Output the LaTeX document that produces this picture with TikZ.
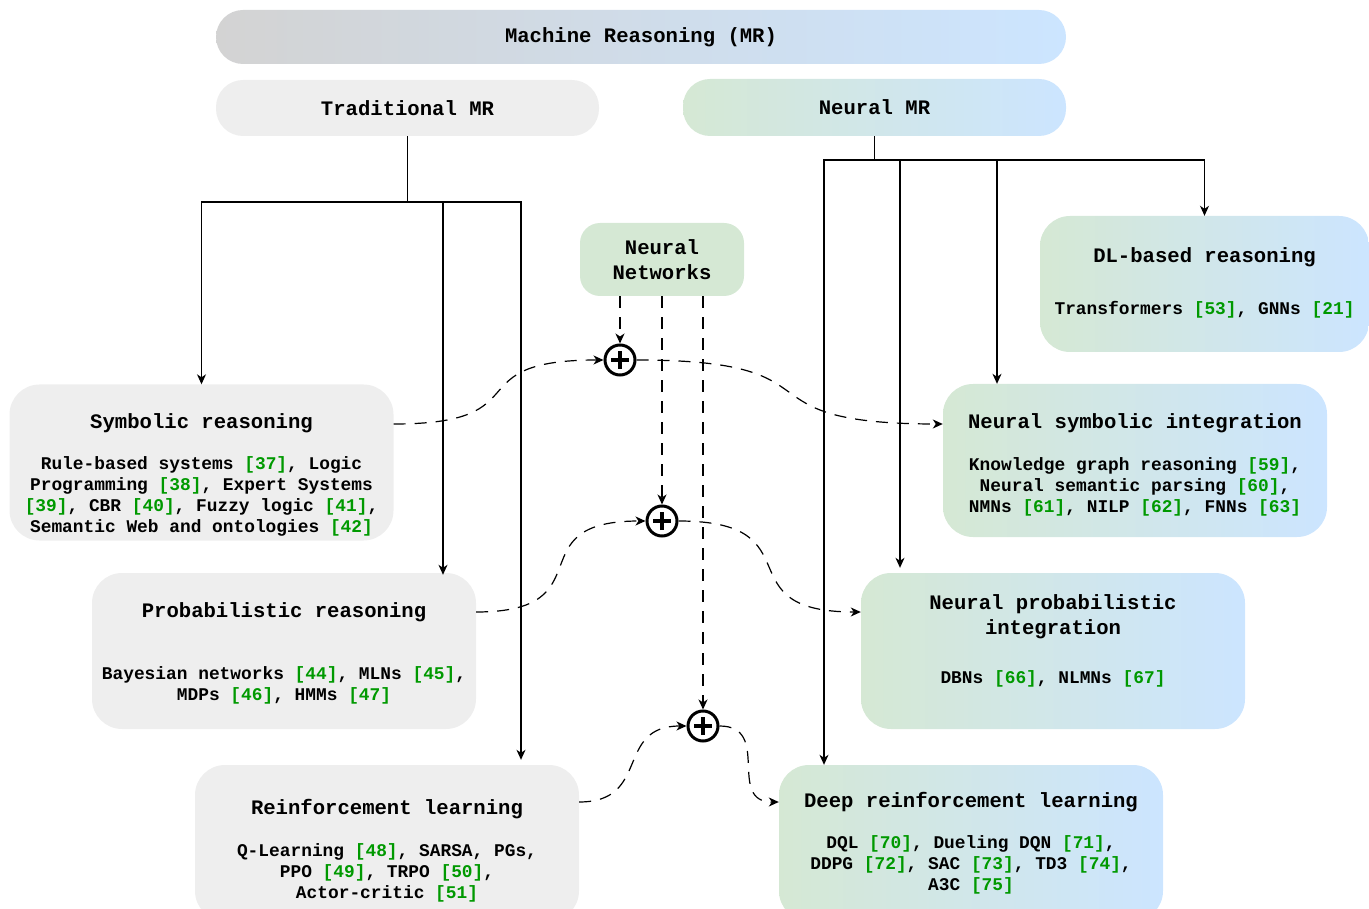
\documentclass[tikz,border=0pt]{standalone}
\usepackage{fontspec}
\setmonofont{Liberation Mono}
\usetikzlibrary{arrows.meta}

\definecolor{boxgray}{RGB}{238,238,238}
\definecolor{mrgray}{RGB}{211,211,211}
\definecolor{nngreen}{RGB}{213,232,212}
\definecolor{nnblue}{RGB}{204,229,255}
\definecolor{litgreen}{RGB}{0,153,0}

\newcommand{\titlef}{\fontsize{20.6}{25}\selectfont\ttfamily\bfseries}
\newcommand{\bodyf}{\fontsize{17.85}{21}\selectfont\ttfamily\bfseries}
\newcommand{\lit}[1]{\textcolor{litgreen}{[#1]}}

\tikzset{
	pill/.style={rounded corners=27pt, inner sep=0pt, font=\titlef},
	tradbox/.style={fill=boxgray, rounded corners=30pt, inner sep=0pt, minimum width=384pt, minimum height=156pt},
	neurbox/.style={left color=nngreen, right color=nnblue, rounded corners=30pt, inner sep=0pt, minimum width=384pt, minimum height=156pt},
	txt/.style={align=center, font=\bodyf, inner sep=0pt},
	oplus/.style={circle, draw, line width=3pt, minimum size=30pt, inner sep=0pt},
	tree/.style={line width=1.2pt},
	dashcon/.style={line width=1.2pt, dash pattern=on 12pt off 9pt},
	scurve/.style={out=0, in=180, looseness=1.75},
	shortcurve/.style={out=0, in=180, looseness=1.4},
	>={Stealth[length=10pt,width=9pt,inset=3pt]}
}

\begin{document}
\begin{tikzpicture}[x=1pt,y=1pt]
	\useasboundingbox (0,0) rectangle (1369,-909);

	\node[pill, left color=mrgray, right color=nnblue, minimum width=850pt, minimum height=54pt] (mr) at (641,-37) {Machine Reasoning (MR)};
	\node[pill, fill=boxgray, minimum width=383pt, minimum height=56pt] (trad) at (407.5,-108) {Traditional MR};
	\node[pill, left color=nngreen, right color=nnblue, minimum width=383pt, minimum height=57pt] (neur) at (874.5,-107.5) {Neural MR};
	\node[pill, fill=nngreen, rounded corners=20pt, align=center, minimum width=164pt, minimum height=73pt] (nn) at (662,-259.5) {Neural\\Networks};

	% traditional side
	\node[tradbox] (sym) at (201.5,-462.5) {};
	\node[txt] (symt) at ([yshift=-12pt]sym.center) {{\titlef Symbolic reasoning}\\[20pt]
		Rule-based systems \lit{37}, Logic\\
		Programming \lit{38}, Expert Systems\\
		\lit{39}, CBR \lit{40}, Fuzzy logic \lit{41},\\
		Semantic Web and ontologies \lit{42}};
	\node[tradbox] (prob) at (284,-651) {};
	\node[txt] (probt) at ([yshift=-2.5pt]prob.center) {{\titlef Probabilistic reasoning}\\[41pt]
		Bayesian networks \lit{44}, MLNs \lit{45},\\
		MDPs \lit{46}, HMMs \lit{47}};
	\node[tradbox] (rl) at (387,-843) {};
	\node[txt] (rlt) at ([yshift=-7.5pt]rl.center) {{\titlef Reinforcement learning}\\[21pt]
		Q-Learning \lit{48}, SARSA, PGs,\\
		PPO \lit{49}, TRPO \lit{50},\\
		Actor-critic \lit{51}};

	% neural side
	\node[neurbox, minimum width=329pt, minimum height=136pt] (dl) at (1204.5,-284) {};
	\node[txt] (dlt) at ([yshift=1.5pt]dl.center) {{\titlef DL-based reasoning}\\[31pt]
		Transformers \lit{53}, GNNs \lit{21}};
	\node[neurbox, minimum height=153pt] (nsi) at (1135,-460.5) {};
	\node[txt] (nsit) at ([yshift=-4pt]nsi.center) {{\titlef Neural symbolic integration}\\[21pt]
		Knowledge graph reasoning \lit{59},\\
		Neural semantic parsing \lit{60},\\
		NMNs \lit{61}, NILP \lit{62}, FNNs \lit{63}};
	\node[neurbox] (npi) at (1053,-651) {};
	\node[txt] (npit) at ([yshift=10.5pt]npi.center) {{\titlef Neural probabilistic}\\[4pt]
		{\titlef integration}\\[28pt]
		DBNs \lit{66}, NLMNs \lit{67}};
	\node[neurbox] (drl) at (971,-843) {};
	\node[txt] (drlt) at ([yshift=-0.5pt]drl.center) {{\titlef Deep reinforcement learning}\\[20pt]
		DQL \lit{70}, Dueling DQN \lit{71},\\
		DDPG \lit{72}, SAC \lit{73}, TD3 \lit{74},\\
		A3C \lit{75}};

	% fusion points
	\node[oplus] (c1) at (620,-360) {};
	\node[oplus] (c2) at (662,-521) {};
	\node[oplus] (c3) at (703,-726) {};
	\foreach \c in {c1,c2,c3} {
		\draw[line width=3.2pt] ([xshift=-9pt]\c.center) -- ([xshift=9pt]\c.center);
		\draw[line width=3.2pt] ([yshift=-9pt]\c.center) -- ([yshift=9pt]\c.center);
	}

	% tree connectors
	\coordinate (tj) at (407.5,-202);
	\draw[tree] (trad.south) -- (tj);
	\draw[tree,->] (tj) -| (sym.north);
	\draw[tree,->] (tj) -| ([xshift=159pt,yshift=-2pt]prob.north);
	\draw[tree,->] (tj) -| ([xshift=134pt,yshift=5pt]rl.north);

	\coordinate (nj) at (874.5,-160);
	\draw[tree] (neur.south) -- (nj);
	\draw[tree,->] (nj) -| ([xshift=-147pt]drl.north);
	\draw[tree,->] (nj) -| ([xshift=-153pt,yshift=5pt]npi.north);
	\draw[tree,->] (nj) -| ([xshift=-138pt]nsi.north);
	\draw[tree,->] (nj) -| (dl.north);

	% neural networks feeding the fusion points
	\draw[dashcon,->] (nn.south -| c1) -- (c1.north);
	\draw[dashcon,->] (nn.south -| c2) -- (c2.north);
	\draw[dashcon,->] (nn.south -| c3) -- (c3.north);

	\draw[dashcon,->] ([yshift=38.5pt]sym.east) to[scurve] (c1.west);
	\draw[dashcon,->] (c1.east) to[scurve] ([yshift=36.5pt]nsi.west);
	\draw[dashcon,->] ([yshift=39pt]prob.east) to[scurve] (c2.west);
	\draw[dashcon,->] (c2.east) to[scurve] ([yshift=39pt]npi.west);
	\draw[dashcon,->] ([yshift=41pt]rl.east) to[shortcurve] (c3.west);
	\draw[dashcon,->] (c3.east) to[shortcurve] ([yshift=41pt]drl.west);
\end{tikzpicture}
\end{document}
